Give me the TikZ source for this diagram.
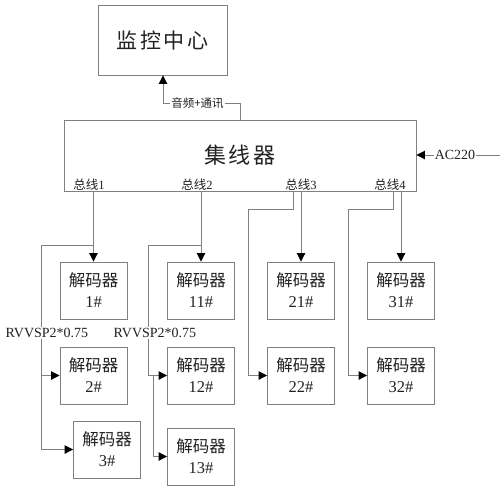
\documentclass[tikz,border=0pt]{standalone}
\usepackage{fontspec}
\setmainfont{Liberation Serif}
\newfontfamily\cjk{Noto Sans CJK SC}
\newfontfamily\cjkwide{Noto Sans CJK SC}[LetterSpace=12]
\usetikzlibrary{arrows.meta}
\definecolor{ln}{HTML}{808080}
\definecolor{tx}{HTML}{222222}
\begin{document}
\begin{tikzpicture}[x=1pt,y=-1pt,
  box/.style={draw=ln,line width=0.9pt,fill=white,inner sep=0pt,text=tx},
  dec/.style={box,minimum width=67pt,minimum height=57pt,align=center,font=\fontsize{16.5}{21}\selectfont},
  wire/.style={draw=ln,line width=0.9pt},
  arr/.style={wire,-{Triangle[length=8.5pt,width=8.5pt,color=black]}},
  lab/.style={text=tx,inner sep=1pt}]
\useasboundingbox (0,0) rectangle (500,490);
% main boxes
\node[box,minimum width=129pt,minimum height=70pt,font=\fontsize{21}{24}\selectfont] (mon) at (162.5,40) {\cjkwide 监控中心};
\node[box,minimum width=352pt,minimum height=71pt,font=\fontsize{22}{24}\selectfont] (hub) at (240,155.5) {\cjkwide 集线器};
% bus labels
\node[lab,font=\fontsize{12.5}{14}\selectfont] (bl1) at (89,185) {{\cjk 总线}1};
\node[lab,font=\fontsize{12.5}{14}\selectfont] (bl2) at (197,185) {{\cjk 总线}2};
\node[lab,font=\fontsize{12.5}{14}\selectfont] (bl3) at (301,185) {{\cjk 总线}3};
\node[lab,font=\fontsize{12.5}{14}\selectfont] (bl4) at (390,185) {{\cjk 总线}4};
% decoders
\node[dec] (d1) at (93.5,290.5) {\cjk 解码器\\1\#};
\node[dec] (d2) at (93.5,375.5) {\cjk 解码器\\2\#};
\node[dec] (d3) at (107,449.5) {\cjk 解码器\\3\#};
\node[dec] (d11) at (201,290.5) {\cjk 解码器\\11\#};
\node[dec] (d12) at (201,375.5) {\cjk 解码器\\12\#};
\node[dec] (d13) at (201,456.5) {\cjk 解码器\\13\#};
\node[dec] (d21) at (301,290.5) {\cjk 解码器\\21\#};
\node[dec] (d22) at (301,375.5) {\cjk 解码器\\22\#};
\node[dec] (d31) at (401,290.5) {\cjk 解码器\\31\#};
\node[dec] (d32) at (401,375.5) {\cjk 解码器\\32\#};
% top link
\node[lab,font=\fontsize{11.5}{13}\selectfont] (au) at (197.5,103) {\cjk 音频+通讯};
\coordinate (t1) at (240,103);
\coordinate (t2) at (163,103);
\draw[wire] (hub.north -| t1) -- (t1) -- (au.east);
\draw[arr] (au.west) -- (t2) -- (mon.south -| t2);
% AC220
\node[lab,font=\fontsize{14}{16}\selectfont] (ac) at (455,155) {AC220};
\coordinate (acr) at (500,155);
\draw[wire] (acr) -- (ac.east);
\draw[arr] (ac.west) -- (hub.east |- ac);
% bus 1
\coordinate (j1) at (93,245);
\coordinate (k1) at (41,245);
\draw[arr] (hub.south -| d1.north) -- (d1.north);
\draw[wire] (j1) -- (k1) -- (k1 |- d3.west);
\draw[arr] (k1 |- d2.west) -- (d2.west);
\draw[arr] (k1 |- d3.west) -- (d3.west);
% bus 2
\coordinate (j2) at (201,245);
\coordinate (k2) at (148,245);
\coordinate (m2) at (153,375.5);
\draw[arr] (hub.south -| d11.north) -- (d11.north);
\draw[wire] (j2) -- (k2) -- (k2 |- d12.west);
\draw[arr] (k2 |- d12.west) -- (d12.west);
\draw[arr] (m2) -- (m2 |- d13.west) -- (d13.west);
% bus 3
\coordinate (j3) at (293,209);
\coordinate (k3) at (248,209);
\draw[arr] (hub.south -| d21.north) -- (d21.north);
\draw[arr] (hub.south -| j3) -- (j3) -- (k3) -- (k3 |- d22.west) -- (d22.west);
% bus 4
\coordinate (j4) at (393,209);
\coordinate (k4) at (348,209);
\draw[arr] (hub.south -| d31.north) -- (d31.north);
\draw[arr] (hub.south -| j4) -- (j4) -- (k4) -- (k4 |- d32.west) -- (d32.west);
% cable labels (drawn over the wires)
\node[lab,fill=white,font=\fontsize{14}{16}\selectfont] (rv1) at (47,333) {RVVSP2*0.75};
\node[lab,fill=white,font=\fontsize{14}{16}\selectfont] (rv2) at (155,333) {RVVSP2*0.75};
\end{tikzpicture}
\end{document}
